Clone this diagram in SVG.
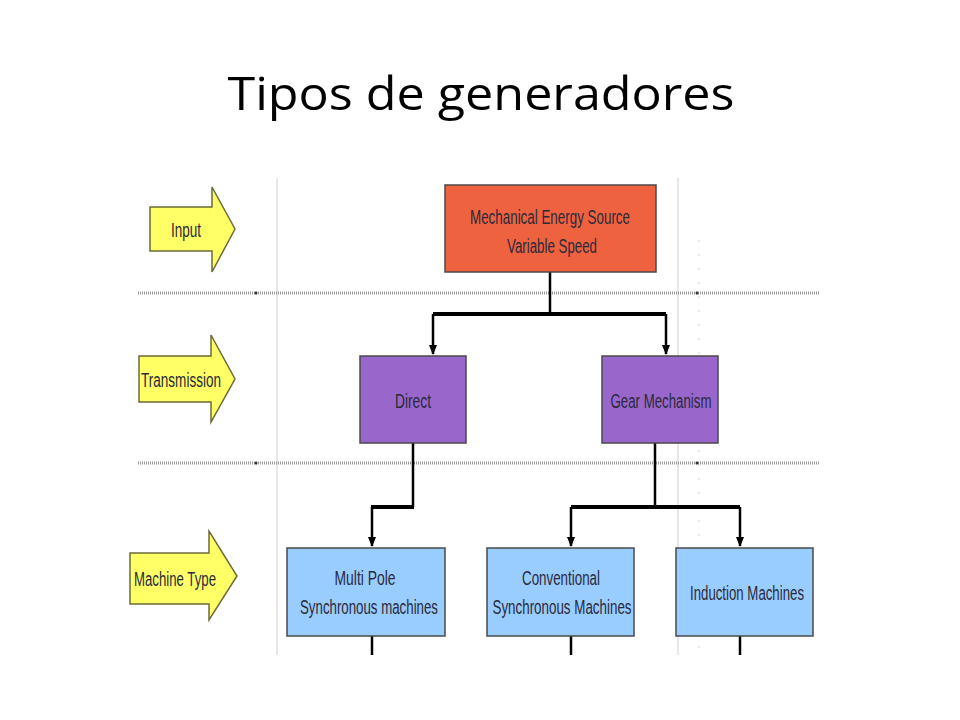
<svg xmlns="http://www.w3.org/2000/svg" width="960" height="720" viewBox="0 0 960 720">
<defs>
<style>
.title{font-family:"Open Sans","Liberation Sans",sans-serif;font-size:46px;fill:#000}
.lbl{font-family:"Liberation Sans",Arial,sans-serif;font-size:20px;fill:#2a2a3a;text-anchor:middle}
.box{stroke:#4a4a4a;stroke-width:1.5}
.arrowy{fill:#ffff66;stroke:#6b6b3a;stroke-width:1.5}
.dot{stroke:#9a9a9a;stroke-width:3;stroke-dasharray:1 1;fill:none}
.vl{stroke:#d0d0d0;stroke-width:1;fill:none}
.con{stroke:#000;stroke-width:2.5;fill:none}
.bar{stroke:#000;stroke-width:4;fill:none}
</style>
<marker id="ah" viewBox="0 0 10 10" refX="9" refY="5" markerWidth="4" markerHeight="6" orient="auto" markerUnits="strokeWidth">
<path d="M0,1 L10,5 L0,9 z" fill="#000"/>
</marker>
</defs>
<rect width="960" height="720" fill="#fff"/>
<text class="title" x="481" y="110" text-anchor="middle" textLength="507" lengthAdjust="spacingAndGlyphs">Tipos de generadores</text>

<g id="grid">
<line class="vl" x1="277" y1="178" x2="277" y2="655"/>
<line class="vl" x1="678" y1="178" x2="678" y2="655"/>
<line class="vl" x1="699" y1="240" x2="699" y2="655" stroke="#aaa" stroke-dasharray="2 12"/>
<line class="dot" x1="138" y1="293" x2="820" y2="293"/>
<line class="dot" x1="138" y1="463" x2="820" y2="463"/>
<circle cx="256" cy="293" r="1.5" fill="#333"/>
<circle cx="697" cy="293" r="1.5" fill="#333"/>
<circle cx="256" cy="463" r="1.5" fill="#333"/>
<circle cx="697" cy="463" r="1.5" fill="#333"/>
</g>

<g id="input">
<path class="arrowy" d="M150,207 L212,207 L212,187 L235,229 L212,272 L212,251 L150,251 Z"/>
<text class="lbl" x="186" y="237" textLength="30" lengthAdjust="spacingAndGlyphs">Input</text>
</g>
<g id="transmission">
<path class="arrowy" d="M139,356 L211,356 L211,335 L235,379 L211,422 L211,402 L139,402 Z"/>
<text class="lbl" x="181" y="387" textLength="80" lengthAdjust="spacingAndGlyphs">Transmission</text>
</g>
<g id="machinetype">
<path class="arrowy" d="M130,553 L209,553 L209,531 L237,576 L209,620 L209,604 L130,604 Z"/>
<text class="lbl" x="175" y="586" textLength="82" lengthAdjust="spacingAndGlyphs">Machine Type</text>
</g>

<g id="connectors">
<polyline class="con" points="550,272 550,314"/>
<polyline class="bar" points="433,314 666,314"/>
<polyline class="con" points="433,314 433,354" marker-end="url(#ah)"/>
<polyline class="con" points="666,314 666,354" marker-end="url(#ah)"/>
<polyline class="con" points="413,443 413,507"/>
<polyline class="bar" points="414,507 371,507"/>
<polyline class="con" points="372,507 372,546" marker-end="url(#ah)"/>
<polyline class="con" points="655,443 655,507"/>
<polyline class="bar" points="571,507 740,507"/>
<polyline class="con" points="571,507 571,546" marker-end="url(#ah)"/>
<polyline class="con" points="740,507 740,546" marker-end="url(#ah)"/>
<line class="con" x1="372" y1="636" x2="372" y2="655"/>
<line class="con" x1="571" y1="636" x2="571" y2="655"/>
<line class="con" x1="740" y1="636" x2="740" y2="655"/>
</g>

<g id="source">
<rect class="box" x="445" y="185" width="211" height="87" fill="#ef6240"/>
<text class="lbl" x="550" y="224" textLength="160" lengthAdjust="spacingAndGlyphs">Mechanical Energy Source</text>
<text class="lbl" x="552" y="253" textLength="90" lengthAdjust="spacingAndGlyphs">Variable Speed</text>
</g>
<g id="direct">
<rect class="box" x="360" y="356" width="106" height="87" fill="#9966cc"/>
<text class="lbl" x="413" y="408" textLength="36" lengthAdjust="spacingAndGlyphs">Direct</text>
</g>
<g id="gear">
<rect class="box" x="602" y="356" width="116" height="87" fill="#9966cc"/>
<text class="lbl" x="661" y="408" textLength="101" lengthAdjust="spacingAndGlyphs">Gear Mechanism</text>
</g>
<g id="multipole">
<rect class="box" x="287" y="548" width="158" height="88" fill="#99ccff"/>
<text class="lbl" x="365" y="585" textLength="61" lengthAdjust="spacingAndGlyphs">Multi Pole</text>
<text class="lbl" x="369" y="614" textLength="138" lengthAdjust="spacingAndGlyphs">Synchronous machines</text>
</g>
<g id="conventional">
<rect class="box" x="487" y="548" width="147" height="88" fill="#99ccff"/>
<text class="lbl" x="561" y="585" textLength="78" lengthAdjust="spacingAndGlyphs">Conventional</text>
<text class="lbl" x="562" y="614" textLength="139" lengthAdjust="spacingAndGlyphs">Synchronous Machines</text>
</g>
<g id="induction">
<rect class="box" x="676" y="548" width="137" height="88" fill="#99ccff"/>
<text class="lbl" x="747" y="600" textLength="114" lengthAdjust="spacingAndGlyphs">Induction Machines</text>
</g>
</svg>
